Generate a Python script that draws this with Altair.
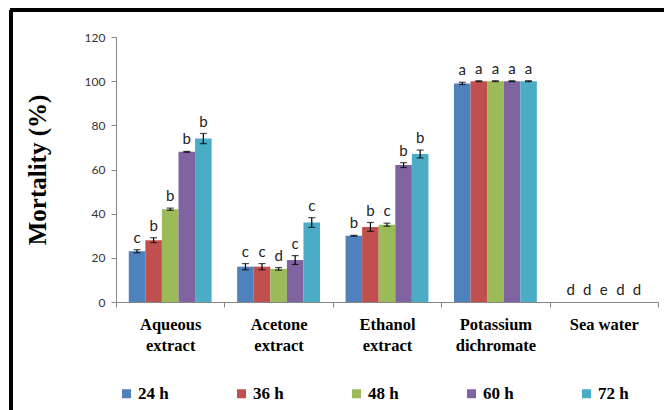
import altair as alt
import pandas as pd

# Treatments (x categories) and exposure times (series)
categories = ["Aqueous extract", "Acetone extract", "Ethanol extract",
              "Potassium dichromate", "Sea water"]
hours = ["24 h", "36 h", "48 h", "60 h", "72 h"]
colors = ["#4F81BD", "#C0504D", "#9BBB59", "#8064A2", "#4BACC6"]

# Mean mortality (%) per treatment, one value per exposure time
mort_aqueous = [23, 28, 42, 68, 74]
mort_acetone = [16, 16, 15, 19, 36]
mort_ethanol = [30, 34, 35, 62, 67]
mort_dichromate = [99, 100, 100, 100, 100]
mort_seawater = [0, 0, 0, 0, 0]

# Standard errors
se_aqueous = [0.7, 1.1, 0.5, 0.2, 2.3]
se_acetone = [1.4, 1.4, 0.6, 2.0, 2.2]
se_ethanol = [0.2, 2.0, 0.7, 1.1, 1.8]
se_dichromate = [0.5, 0.2, 0.2, 0.2, 0.2]
se_seawater = [0, 0, 0, 0, 0]

# Significance letters
sig_aqueous = ["c", "b", "b", "b", "b"]
sig_acetone = ["c", "c", "d", "c", "c"]
sig_ethanol = ["b", "b", "c", "b", "b"]
sig_dichromate = ["a", "a", "a", "a", "a"]
sig_seawater = ["d", "d", "e", "d", "d"]

means = [mort_aqueous, mort_acetone, mort_ethanol, mort_dichromate, mort_seawater]
errs = [se_aqueous, se_acetone, se_ethanol, se_dichromate, se_seawater]
sigs = [sig_aqueous, sig_acetone, sig_ethanol, sig_dichromate, sig_seawater]

rows = []
for ci, cat in enumerate(categories):
    for hi, h in enumerate(hours):
        m = means[ci][hi]
        e = errs[ci][hi]
        rows.append({"treatment": cat, "time": h, "mortality": m,
                     "lo": m - e, "hi": m + e, "err": e, "sig": sigs[ci][hi]})
df = pd.DataFrame(rows)

serif = "Liberation Serif"

x_enc = alt.X("treatment:N", sort=categories, title=None,
              scale=alt.Scale(paddingInner=0, paddingOuter=0),
              axis=alt.Axis(labelAngle=0, tickBand="extent", tickSize=5,
                            labelFont=serif, labelFontWeight="bold",
                            labelFontSize=16.5, labelColor="#000000",
                            labelPadding=9, labelLineHeight=21,
                            labelExpr="datum.label == 'Sea water' ? datum.label : split(datum.label, ' ')"))
xoff = alt.XOffset("time:N", sort=hours,
                   scale=alt.Scale(paddingInner=0, paddingOuter=0.77))
y_scale = alt.Scale(domain=[0, 120])

base = alt.Chart(df)

bars = base.mark_bar().encode(
    x=x_enc,
    xOffset=xoff,
    y=alt.Y("mortality:Q", scale=y_scale, title="Mortality (%)",
            axis=alt.Axis(values=[0, 20, 40, 60, 80, 100, 120], tickSize=5,
                          labelPadding=6, labelFont="Lato", labelFontSize=12,
                          labelColor="#333333", titleFont=serif,
                          titleFontWeight="bold", titleFontSize=25,
                          titleColor="#000000", titlePadding=34)),
    color=alt.Color("time:N", sort=hours,
                    scale=alt.Scale(domain=hours, range=colors),
                    legend=alt.Legend(orient="none", legendX=2, legendY=348,
                                      direction="horizontal", columns=5,
                                      title=None, symbolType="square",
                                      symbolSize=81, symbolStrokeWidth=0,
                                      labelFont=serif, labelFontWeight="bold",
                                      labelFontSize=17, labelColor="#000000",
                                      labelOffset=3, columnPadding=64,
                                      padding=0)),
)

with_err = base.transform_filter("datum.err > 0")

stems = with_err.mark_rule(color="#000000", strokeWidth=1.2).encode(
    x=alt.X("treatment:N", sort=categories), xOffset=xoff,
    y=alt.Y("lo:Q", scale=y_scale), y2="hi:Q")
cap_lo = with_err.mark_tick(color="#000000", size=7, thickness=1.2).encode(
    x=alt.X("treatment:N", sort=categories), xOffset=xoff,
    y=alt.Y("lo:Q", scale=y_scale))
cap_hi = with_err.mark_tick(color="#000000", size=7, thickness=1.2).encode(
    x=alt.X("treatment:N", sort=categories), xOffset=xoff,
    y=alt.Y("hi:Q", scale=y_scale))

letters = base.mark_text(baseline="bottom", dy=-4, font="Lato", fontSize=15,
                         color="#222222").encode(
    x=alt.X("treatment:N", sort=categories), xOffset=xoff,
    y=alt.Y("hi:Q", scale=y_scale), text="sig:N")

# Black frame around the figure (left and top edges)
frame_left = alt.Chart(df).mark_rule(color="#000000", strokeWidth=2.5).encode(
    x=alt.value(-105), y=alt.value(-27), y2=alt.value(400))
frame_top = alt.Chart(df).mark_rule(color="#000000", strokeWidth=2.5).encode(
    x=alt.value(-106), x2=alt.value(600), y=alt.value(-27))

chart = alt.layer(bars, stems, cap_lo, cap_hi, letters, frame_left, frame_top).properties(
    width=542, height=265,
    padding={"left": 116, "top": 37, "right": 6, "bottom": 108},
    autosize=alt.AutoSizeParams(type="none"),
    background="#FFFFFF",
).configure_view(stroke=None).configure_axis(
    grid=False, domainColor="#868686", tickColor="#868686"
)

chart.save("out.html", embed_options={"renderer": "svg", "actions": False})
